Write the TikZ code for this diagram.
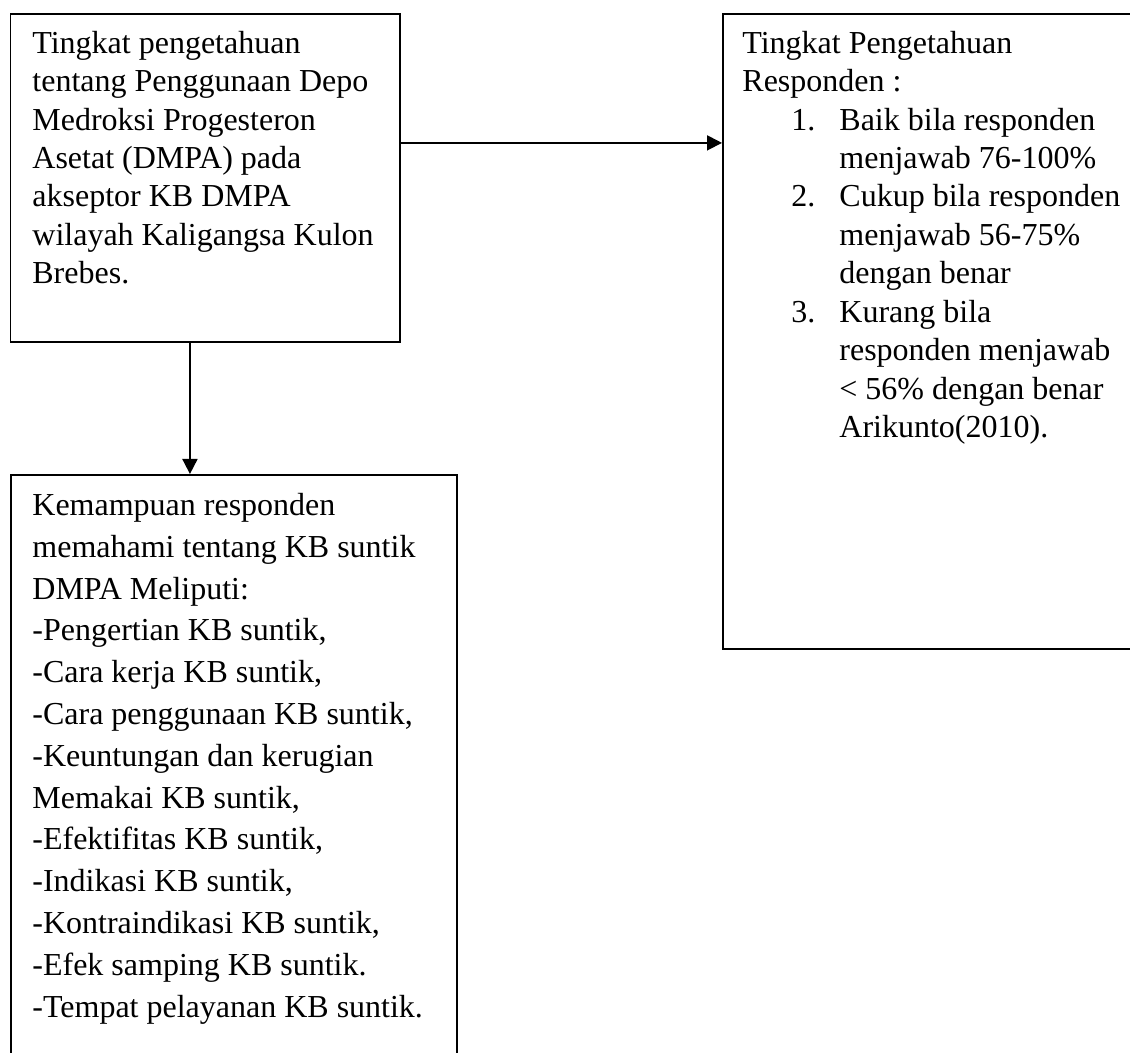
\documentclass[tikz,border=0pt]{standalone}
\usepackage{fontspec}
\setmainfont{Liberation Serif}
\usepackage{tikz}
\usetikzlibrary{arrows.meta, positioning}
\newcommand{\topline}{\rule{0pt}{12pt}}
\newcommand{\numline}[2]{\hspace*{24.5pt}\makebox[24pt][l]{#1}#2}
\newcommand{\contline}[1]{\hspace*{48.5pt}#1}

\begin{document}
\begin{tikzpicture}[
        frame/.style={rectangle, draw=black, line width=0.9pt, inner sep=0pt, anchor=north west},
        txt/.style={inner sep=0pt, align=left, font=\fontsize{16pt}{19.2pt}\selectfont},
        line/.style={draw=black, line width=0.9pt, -{Triangle[length=7.5pt, width=7.5pt]}}]

    \useasboundingbox (0,0) rectangle (565pt,-526.5pt);
    \clip (0,0) rectangle (565pt,-526.5pt);

    % Kotak kiri atas
    \node [frame, minimum width=194.75pt, minimum height=164pt] (know) at (4.75pt,-6.5pt) {};
    \node [txt, below right=8pt and 11.25pt of know.north west] (know-txt) {\topline Tingkat pengetahuan\\
        tentang Penggunaan Depo\\ Medroksi Progesteron\\ Asetat (DMPA) pada\\
        akseptor KB DMPA\\ wilayah Kaligangsa Kulon\\ Brebes.};

    % Kotak kanan (kategori)
    \node [frame, minimum width=220pt, minimum height=317.5pt] (resp) at (361pt,-6.5pt) {};
    \node [txt, below right=8pt and 10pt of resp.north west] (resp-txt) {\topline Tingkat Pengetahuan\\
        Responden :\\
        \numline{1.}{Baik bila responden}\\ \contline{menjawab 76-100\%}\\
        \numline{2.}{Cukup bila responden}\\ \contline{menjawab 56-75\%}\\ \contline{dengan benar}\\
        \numline{3.}{Kurang bila}\\ \contline{responden menjawab}\\
        \contline{\textless{} 56\% dengan benar}\\ \contline{Arikunto(2010).}};

    % Kotak bawah (terbuka ke bawah)
    \node [frame, minimum width=223pt, minimum height=320pt] (cap) at (5pt,-237pt) {};
    \node [txt, font=\fontsize{16pt}{20.9pt}\selectfont, below right=8.5pt and 11pt of cap.north west] (cap-txt) {\topline Kemampuan responden\\
        memahami tentang KB suntik\\ DMPA Meliputi:\\ -Pengertian KB suntik,\\
        -Cara kerja KB suntik,\\ -Cara penggunaan KB suntik,\\ -Keuntungan dan kerugian\\
        Memakai KB suntik,\\ -Efektifitas KB suntik,\\ -Indikasi KB suntik,\\
        -Kontraindikasi KB suntik,\\ -Efek samping KB suntik.\\ -Tempat pelayanan KB suntik.};

    \path [line] ([yshift=17.5pt]know.east) -- ([yshift=17.5pt]know.east -| resp.west);
    \path [line] ([xshift=-7.6pt]know.south) -- ([xshift=-7.6pt]know.south |- cap.north);
\end{tikzpicture}
\end{document}
